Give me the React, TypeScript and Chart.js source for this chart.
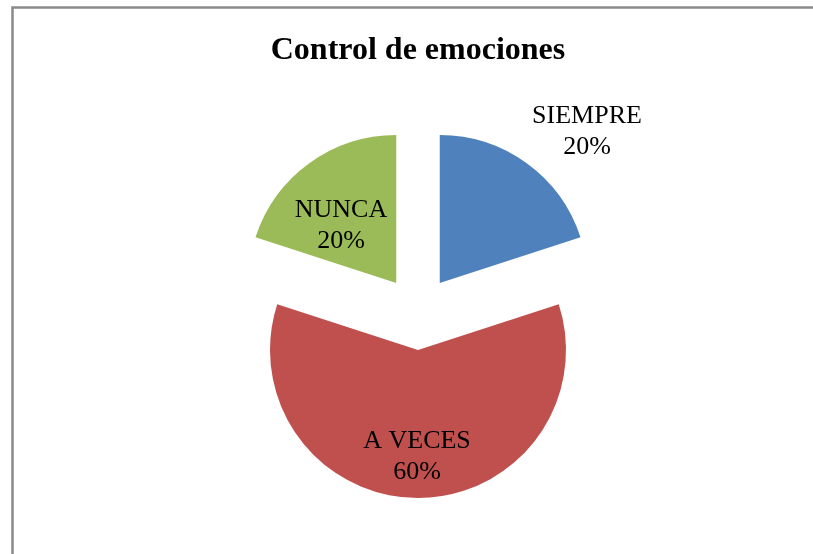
import React, { useEffect, useRef } from "react";
import { Chart, registerables } from "chart.js";

Chart.register(...registerables);

// ---- data ----
const categories = ["SIEMPRE", "A VECES", "NUNCA"];
const percentages = [20, 60, 20];
const chartTitle = "Control de emociones";

// ---- style ----
const sliceColors = ["#4F81BD", "#C0504D", "#9BBB59"];
const EXPLODE = 37;
const RADIUS = 148;
const SERIF = '"Liberation Serif", "Times New Roman", serif';
// label anchor (baseline of first line) relative to pie center
const labelOffsets: [number, number][] = [
  [169, -190],
  [-1, 135],
  [-77, -96],
];

const explodePlugin = {
  id: "explode",
  afterDatasetsUpdate(chart: any) {
    const meta = chart.getDatasetMeta(0);
    meta.data.forEach((arc: any) => {
      const mid = (arc.startAngle + arc.endAngle) / 2;
      arc.x += Math.cos(mid) * EXPLODE;
      arc.y += Math.sin(mid) * EXPLODE;
    });
  },
};

const decorPlugin = {
  id: "decor",
  beforeDraw(chart: any) {
    const ctx = chart.ctx;
    ctx.save();
    ctx.fillStyle = "#ffffff";
    ctx.fillRect(0, 0, chart.width, chart.height);
    ctx.strokeStyle = "#8a8a8a";
    ctx.lineWidth = 2.5;
    ctx.beginPath();
    ctx.moveTo(12.5, chart.height + 5);
    ctx.lineTo(12.5, 7.5);
    ctx.lineTo(chart.width + 5, 7.5);
    ctx.stroke();
    ctx.restore();
  },
  afterDraw(chart: any) {
    const ctx = chart.ctx;
    const ca = chart.chartArea;
    const cx = (ca.left + ca.right) / 2;
    const cy = (ca.top + ca.bottom) / 2;
    ctx.save();
    ctx.fillStyle = "#000000";
    ctx.textAlign = "center";
    ctx.textBaseline = "alphabetic";
    ctx.font = `bold 32px ${SERIF}`;
    ctx.fillText(chartTitle, cx, 59);
    ctx.font = `26px ${SERIF}`;
    const total = percentages.reduce((a, b) => a + b, 0);
    categories.forEach((cat, i) => {
      const [dx, dy] = labelOffsets[i];
      const x = cx + dx;
      const y = cy + dy;
      const pct = Math.round((percentages[i] / total) * 100) + "%";
      ctx.fillText(cat, x, y);
      ctx.fillText(pct, x, y + 31);
    });
    ctx.restore();
  },
};

export default function App() {
  const ref = useRef<HTMLCanvasElement | null>(null);
  useEffect(() => {
    if (!ref.current) return;
    const chart = new Chart(ref.current, {
      type: "pie",
      data: {
        labels: categories,
        datasets: [
          {
            data: percentages,
            backgroundColor: sliceColors,
            borderWidth: 0,
          },
        ],
      },
      options: {
        responsive: false,
        animation: false,
        radius: RADIUS,
        layout: { padding: { left: 123, right: 100, top: 130, bottom: 58 } },
        plugins: {
          legend: { display: false },
          title: { display: false },
          tooltip: { enabled: false },
        },
      } as any,
      plugins: [explodePlugin, decorPlugin],
    });
    return () => chart.destroy();
  }, []);
  return (
    <div style={{ position: "fixed", left: 0, top: 0, width: 813, height: 554 }}>
      <canvas ref={ref} width={813} height={554} style={{ display: "block" }} />
    </div>
  );
}
